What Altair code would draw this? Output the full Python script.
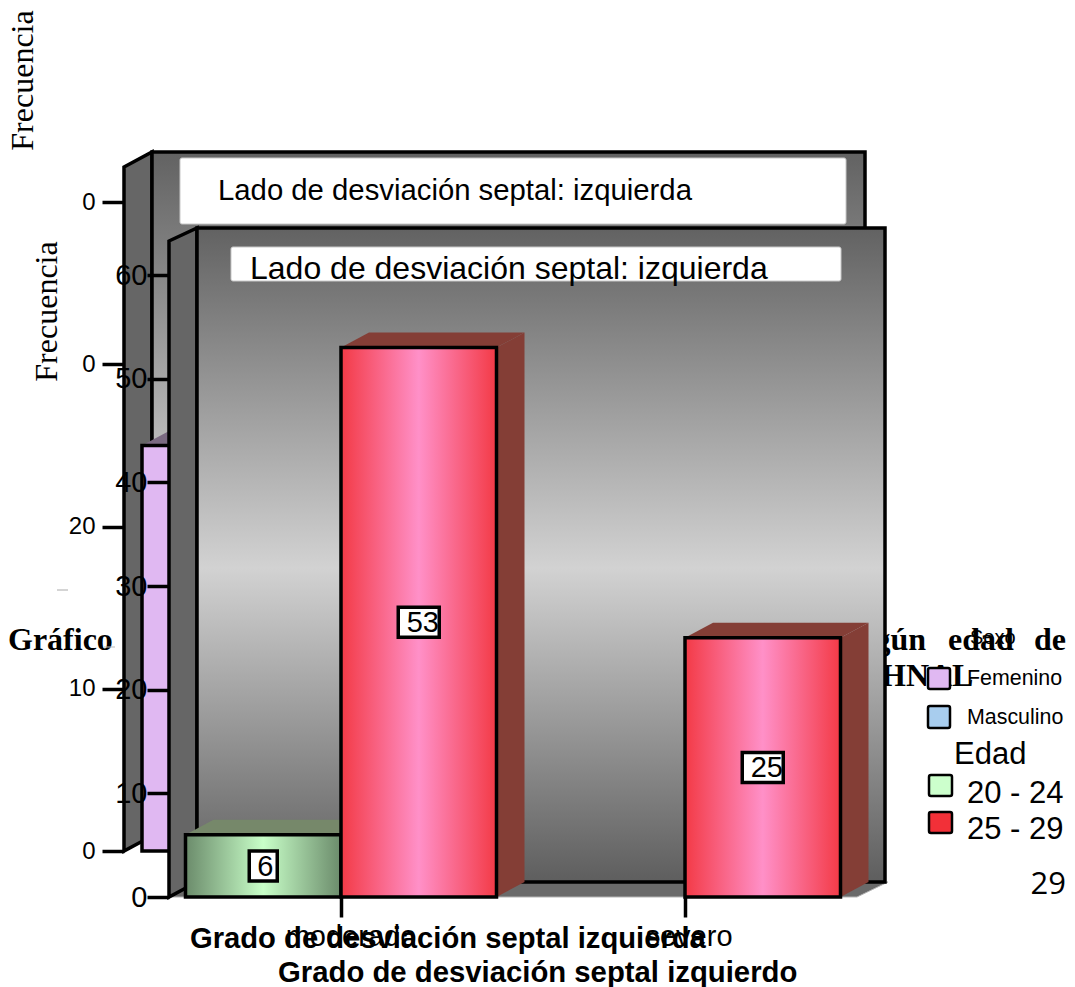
import altair as alt
import pandas as pd

# Values shown on the charts
GRADES = ["moderado", "severo"]
AGES = ["20 - 24", "25 - 29"]
COUNTS_20_24 = [6, 0]
COUNTS_25_29 = [53, 25]
FEMALE_COUNT = 25
FRONT_TICKS = [0, 10, 20, 30, 40, 50, 60]
BACK_TICKS = [0, 10, 20, 30, 40]
PANEL_TITLE = "Lado de desviación septal: izquierda"
SEX_LABELS = ["Femenino", "Masculino"]

SANS = "Liberation Sans"
SERIF = "Liberation Serif"
W, H = 1075, 987
LINE = 3.5

front_x = alt.Scale(domain=[0, 1], range=[341, 685], nice=False, zero=False)
front_y = alt.Scale(domain=[0, 60], range=[897, 275], nice=False, zero=False)
back_x = alt.Scale(domain=[0, 1], range=[142, 300], nice=False, zero=False)
back_y = alt.Scale(domain=[0, 40], range=[851, 202], nice=False, zero=False)

FRONT_PX_X = 344.0
FRONT_PX_Y = 622 / 60
BACK_PX_X = 158.0
BACK_PX_Y = 649 / 40


def gradient(stops, vertical=False):
    return alt.LinearGradient(
        gradient="linear",
        x1=0, y1=0,
        x2=0 if vertical else 1,
        y2=1 if vertical else 0,
        stops=[alt.GradientStop(offset=o, color=c) for o, c in stops],
    )


def wall_fill(mid):
    return gradient([(0, "#626262"), (mid, "#d2d2d2"), (1, "#5e5e5e")], vertical=True)


def shade(c0, c1):
    return gradient([(0, c0), (0.5, c1), (1, c0)])


def rect(x0, x1, y0, y1, **mark):
    return alt.Chart().mark_rect(**mark).encode(
        x=alt.value(x0), x2=alt.value(x1), y=alt.value(y0), y2=alt.value(y1)
    )


def label(text, x, y, size, font=SANS, weight="normal", align="left", color="black", angle=0):
    return alt.Chart().mark_text(
        text=text, font=font, fontSize=size, fontWeight=weight, align=align,
        baseline="alphabetic", color=color, angle=angle,
    ).encode(x=alt.value(x), y=alt.value(y))


def pixel_poly(points, fill, **mark):
    """Filled shape in chart pixels: rows of (x, top, bottom)."""
    df = pd.DataFrame(points, columns=["x", "top", "bottom"])
    sx = alt.Scale(domain=[0, W], range=[0, W], nice=False, zero=False)
    sy = alt.Scale(domain=[0, H], range=[0, H], nice=False, zero=False)
    return alt.Chart(df).mark_area(fill=fill, orient="vertical", **mark).encode(
        x=alt.X("x:Q", scale=sx, axis=None),
        y=alt.Y("top:Q", scale=sy, axis=None),
        y2="bottom:Q",
    )


def prism_faces(left, right, value, dx, dy, top_color, side_color, sx, sy):
    """Top and right faces of a bar, in the units of its own scales."""
    top = value + dy
    top_face = pd.DataFrame({
        "x": [left, left + dx, right, right + dx],
        "y": [value, top, top, top],
        "y2": [value, value, value, top],
    })
    side_face = pd.DataFrame({
        "x": [right, right + dx],
        "y": [value, top],
        "y2": [0, dy],
    })
    out = []
    for face, color in ((top_face, top_color), (side_face, side_color)):
        out.append(
            alt.Chart(face).mark_area(fill=color, orient="vertical").encode(
                x=alt.X("x:Q", scale=sx, axis=None),
                y=alt.Y("y:Q", scale=sy, axis=None),
                y2="y2:Q",
            )
        )
    return out


def bar_rect(left, right, value, fill, sx, sy):
    df = pd.DataFrame({"x": [left], "x2": [right], "y": [value], "y2": [0]})
    return alt.Chart(df).mark_rect(fill=fill, stroke="black", strokeWidth=LINE).encode(
        x=alt.X("x:Q", scale=sx, axis=None),
        x2="x2:Q",
        y=alt.Y("y:Q", scale=sy, axis=None),
        y2="y2:Q",
    )


def value_box(center, value):
    half_w = (14 if value < 10 else 20.5) / FRONT_PX_X
    half_h = 15 / FRONT_PX_Y
    mid = value / 2
    df = pd.DataFrame({
        "x": [center - half_w], "x2": [center + half_w],
        "y": [mid - half_h], "y2": [mid + half_h],
        "cx": [center], "mid": [mid], "value": [value],
    })
    box = alt.Chart(df).mark_rect(fill="white", stroke="black", strokeWidth=LINE).encode(
        x=alt.X("x:Q", scale=front_x, axis=None),
        x2="x2:Q",
        y=alt.Y("y:Q", scale=front_y, axis=None),
        y2="y2:Q",
    )
    txt = alt.Chart(df).mark_text(
        font=SANS, fontSize=29, color="black", dx=2 if value < 10 else 4,
        baseline="middle", dy=1,
    ).encode(
        x=alt.X("cx:Q", scale=front_x, axis=None),
        y=alt.Y("mid:Q", scale=front_y, axis=None),
        text="value:Q",
    )
    return [box, txt]


def value_axis(ticks, scale, offset, tick_size, label_size, pad, title_x, title_y, zindex, expr=None):
    axis = dict(
        values=ticks, orient="left", offset=offset, domain=False, grid=False,
        tickSize=tick_size, tickWidth=LINE, tickColor="black",
        labelFont=SANS, labelFontSize=label_size, labelColor="black", labelPadding=pad,
        title="Frecuencia", titleFont=SERIF, titleFontSize=32, titleFontWeight="normal",
        titleColor="black", titleX=title_x, titleY=title_y, titleAngle=270,
        titleAlign="center", titleBaseline="bottom", zindex=zindex,
    )
    if expr:
        axis["labelExpr"] = expr
    df = pd.DataFrame({"v": ticks})
    return alt.Chart(df).mark_point(opacity=0).encode(
        y=alt.Y("v:Q", scale=scale, axis=alt.Axis(**axis))
    )


layers = []

# ---- back panel ----
layers.append(pixel_poly([(124, 167, 851), (152, 152, 836)], "#666666", stroke="black", strokeWidth=LINE))
layers.append(rect(152, 865, 152, 836, fill=wall_fill(0.55), stroke="black", strokeWidth=LINE))
bw = 158 / BACK_PX_X
layers += prism_faces(0, bw, FEMALE_COUNT, 28 / BACK_PX_X, 15 / BACK_PX_Y, "#7b6a82", "#7b6a82", back_x, back_y)
layers.append(bar_rect(0, bw, FEMALE_COUNT, "#e0b8f2", back_x, back_y))
layers.append(rect(180, 846, 158, 224, fill="white", stroke="#c8c8c8", strokeWidth=1, cornerRadius=2))
layers.append(label(PANEL_TITLE, 218, 200, 29.3))
layers.append(value_axis(BACK_TICKS, back_y, -124, 22, 24, 7, -85, 80, 0,
                         expr="datum.value >= 30 ? '0' : datum.label"))

# ---- caption running behind the panels ----
layers.append(label("Gráfico", 8, 650, 32, font=SERIF, weight="bold"))
layers.append(label("según", 926, 650, 32, font=SERIF, weight="bold", align="right"))
layers.append(label("edad", 948, 650, 32, font=SERIF, weight="bold"))
layers.append(label("de", 1066, 650, 32, font=SERIF, weight="bold", align="right"))
layers.append(label("HNAL", 881, 686, 32, font=SERIF, weight="bold"))
layers.append(alt.Chart().mark_rule(color="#aaaaaa", strokeWidth=1).encode(
    x=alt.value(57), x2=alt.value(68), y=alt.value(590)))
layers.append(alt.Chart().mark_rule(color="#bbbbbb", strokeWidth=1).encode(
    x=alt.value(104), x2=alt.value(115), y=alt.value(647)))

# ---- front panel ----
layers.append(pixel_poly(
    [(169, 897, 897), (197, 882, 897), (857, 882, 897), (888, 882, 882)],
    "#6a6a6a", stroke="#b4b4b4", strokeWidth=1,
))
layers.append(pixel_poly([(169, 241, 897), (197, 228, 882)], "#666666", stroke="black", strokeWidth=LINE))
layers.append(rect(197, 885, 228, 882, fill=wall_fill(0.52), stroke="black", strokeWidth=LINE))
layers.append(rect(231, 841, 247, 281, fill="white", stroke="#c8c8c8", strokeWidth=1, cornerRadius=2))
layers.append(label(PANEL_TITLE, 250, 279, 32))

bar_w = 155.5 / FRONT_PX_X
dx = 28 / FRONT_PX_X
dy = 15 / FRONT_PX_Y
GREEN = shade("#6b8b6b", "#c8ffc8")
RED = shade("#f33a46", "#ff90c8")
boxes = []
for i, series in enumerate((COUNTS_20_24, COUNTS_25_29)):
    top_color, fill = ("#76886a", GREEN) if i == 0 else ("#843e36", RED)
    side_color = top_color if i == 0 else "#843e36"
    for g, value in enumerate(series):
        if value == 0:
            continue
        left = g + (i - 1) * bar_w
        layers += prism_faces(left, left + bar_w, value, dx, dy, top_color, side_color, front_x, front_y)
        layers.append(bar_rect(left, left + bar_w, value, fill, front_x, front_y))
        boxes += value_box(left + bar_w / 2, value)
layers += boxes

layers.append(value_axis(FRONT_TICKS, front_y, -169, 22, 29, 0, -106, 311, 1))

grade_df = pd.DataFrame({"g": [0, 1], "name": GRADES})
layers.append(alt.Chart(grade_df).mark_point(opacity=0).encode(
    x=alt.X("g:Q", scale=front_x, axis=alt.Axis(
        values=[0, 1], orient="bottom", offset=-90, domain=False, grid=False, title=None,
        tickSize=20, tickWidth=LINE, tickColor="black", labels=False, zindex=1,
    ))
))
# Tick captions sit slightly right of their ticks
for g, name, shift in zip([0, 1], GRADES, [10, 4]):
    layers.append(
        alt.Chart(grade_df[grade_df.g == g]).mark_text(
            font=SANS, fontSize=29, color="black", dx=shift, baseline="alphabetic",
        ).encode(
            x=alt.X("g:Q", scale=front_x, axis=None),
            y=alt.value(946),
            text="name:N",
        )
    )

# ---- axis titles ----
layers.append(label("Grado de desviación septal izquierda", 190, 948, 29.2, weight="bold"))
layers.append(label("Grado de desviación septal izquierdo", 278, 982, 29.3, weight="bold"))

# ---- legends ----
layers.append(label("Sexo", 970, 644, 20))
for name, y0, y1, color in zip(SEX_LABELS, (668, 706), (689, 728), ("#e0b8f2", "#a8cdee")):
    layers.append(rect(928, 950, y0, y1, fill=color, stroke="black", strokeWidth=2.5, cornerRadius=2))
    layers.append(label(name, 967, y1 - 4, 21.4))
layers.append(label("Edad", 954, 764, 31))
for name, y0, y1, color, base in zip(AGES, (775, 812), (796, 833), ("#ccffcc", "#f23038"), (803, 839)):
    layers.append(rect(929, 952, y0, y1, fill=color, stroke="black", strokeWidth=2.5, cornerRadius=2))
    layers.append(label(name, 967, base, 31))

layers.append(label("29", 1066, 894, 31, font="Open Sans", align="right"))

chart = (
    alt.layer(*layers)
    .resolve_scale(x="independent", y="independent")
    .properties(width=W, height=H, padding=0, autosize=alt.AutoSizeParams(type="none"))
    .configure_view(stroke=None)
)

chart.save("out.html", embed_options={"renderer": "svg", "actions": False})
